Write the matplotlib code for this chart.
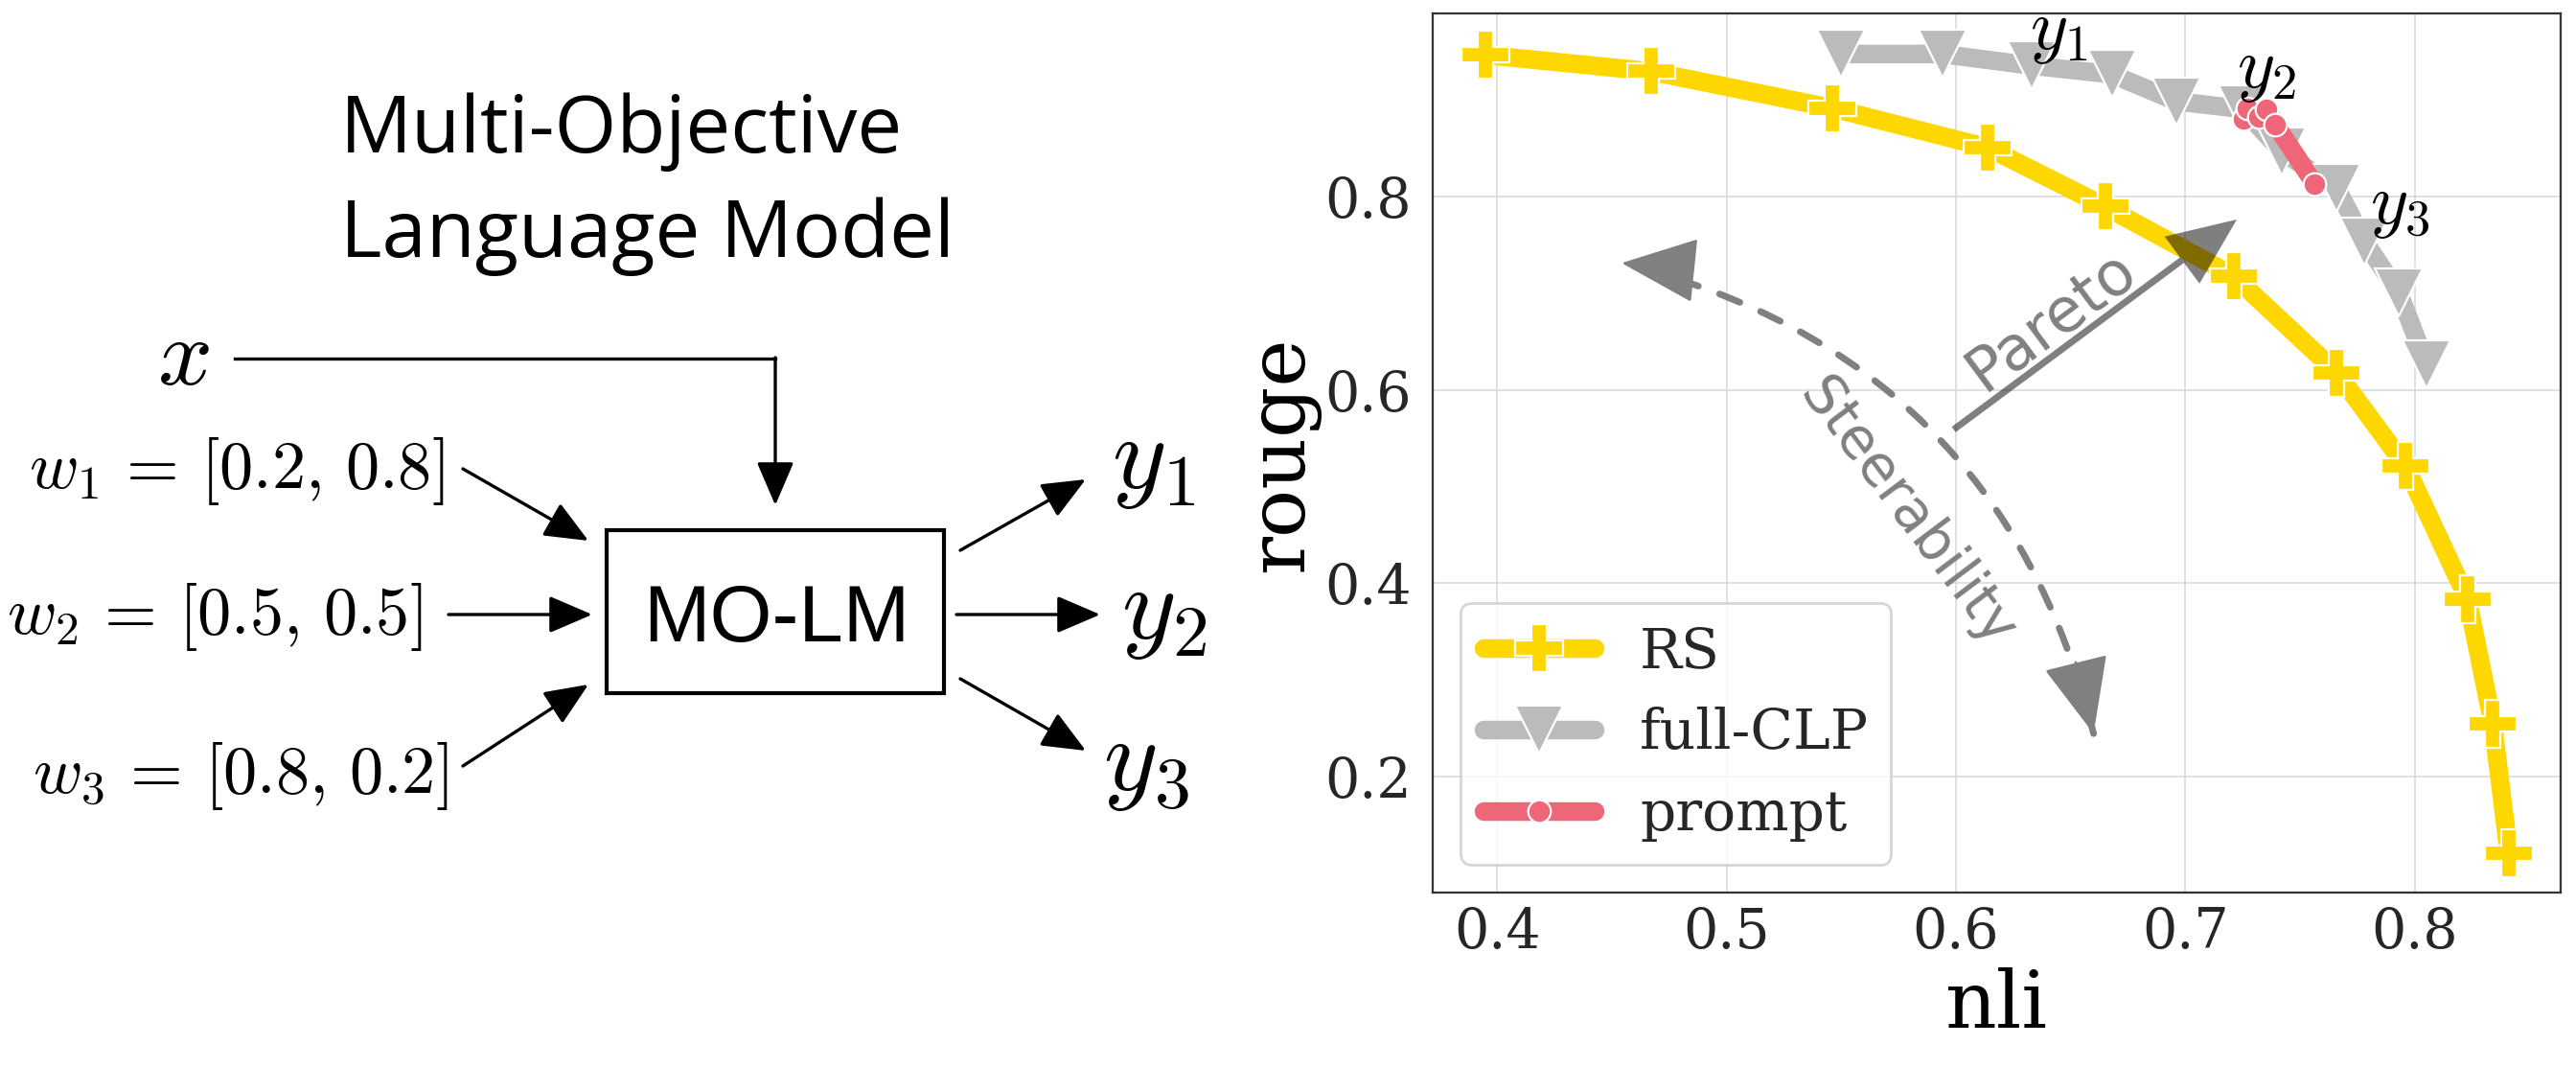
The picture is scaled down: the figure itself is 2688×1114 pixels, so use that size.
import matplotlib
matplotlib.use("Agg")
import matplotlib.pyplot as plt
from matplotlib.patches import Rectangle, ArrowStyle

plt.rcParams['mathtext.fontset'] = 'cm'
plt.rcParams['font.family'] = 'DejaVu Serif'
plt.rcParams['text.color'] = '#262626'

# values
rs_nli = [0.395, 0.467, 0.546, 0.614, 0.665, 0.721, 0.766, 0.796, 0.823, 0.834, 0.841]
rs_rouge = [0.947, 0.930, 0.892, 0.851, 0.790, 0.718, 0.618, 0.521, 0.383, 0.254, 0.120]

clp_nli = [0.550, 0.594, 0.633, 0.668, 0.696, 0.725, 0.742, 0.766, 0.778, 0.793, 0.805]
clp_rouge = [0.948, 0.948, 0.936, 0.927, 0.899, 0.891, 0.847, 0.809, 0.754, 0.701, 0.627]

prompt_nli = [0.7253, 0.7268, 0.7322, 0.7355, 0.7392, 0.7563]
prompt_rouge = [0.881, 0.8915, 0.883, 0.8905, 0.875, 0.8137]

series_names = ['RS', 'full-CLP', 'prompt']
series_colors = ['#FFD700', '#BBBBBB', '#EE6677']
series_markers = ['P', 'v', 'o']

x_ticks = [0.4, 0.5, 0.6, 0.7, 0.8]
y_ticks = [0.2, 0.4, 0.6, 0.8]

weight_labels = [r'$w_1 \,=\, [0.2,\, 0.8]$', r'$w_2 \,=\, [0.5,\, 0.5]$',
                 r'$w_3 \,=\, [0.8,\, 0.2]$']
output_labels = [r'$y_1$', r'$y_2$', r'$y_3$']

fig = plt.figure(figsize=(13.44, 5.57), dpi=200)

# ---------------- left: diagram (pixel coordinates) ----------------
ax0 = fig.add_axes([0, 0, 1, 1])
ax0.set_xlim(0, 2688)
ax0.set_ylim(1114, 0)
ax0.axis('off')


def arrow(ax, start, end, lw=1.2, hl=0.7, hw=0.3):
    ax.annotate('', xy=end, xytext=start,
                arrowprops=dict(arrowstyle=f'-|>,head_length={hl},head_width={hw}',
                                color='k', lw=lw, shrinkA=0, shrinkB=0,
                                mutation_scale=20))


ax0.text(355, 159, 'Multi-Objective', fontfamily='Open Sans', fontsize=30,
         color='k', va='baseline', ha='left')
ax0.text(355, 268, 'Language Model', fontfamily='Open Sans', fontsize=30,
         color='k', va='baseline', ha='left')

ax0.text(191, 374, r'$x$', fontsize=36, color='k', ha='center', va='center')
ax0.plot([245, 809], [374, 374], color='k', lw=1.2)
arrow(ax0, (809, 373), (809, 527))

ax0.add_patch(Rectangle((633, 553), 352, 170, fill=False, ec='k', lw=1.5))
ax0.text(810, 669, 'MO-LM', fontfamily='Liberation Sans', fontsize=30,
         color='k', ha='center', va='baseline')

w_right = [463, 440, 467]
w_base = [509, 661, 827]
for lab, xr, yb in zip(weight_labels, w_right, w_base):
    ax0.text(xr, yb, lab, fontsize=25.3, color='k', ha='right', va='baseline')

arrow(ax0, (483, 489), (614, 564))
arrow(ax0, (468, 641), (618, 641))
arrow(ax0, (483, 799), (614, 714))

arrow(ax0, (1002, 574), (1133, 500))
arrow(ax0, (998, 641), (1148, 641))
arrow(ax0, (1002, 708), (1133, 783))

y_pos = [(1203, 480), (1215, 637), (1196, 795)]
for lab, (px, py) in zip(output_labels, y_pos):
    ax0.text(px, py, lab, fontsize=39, color='k', ha='center', va='center')

# ---------------- right: pareto fronts ----------------
ax = fig.add_axes([0.5562, 0.1643, 0.4378, 0.8231])
ax.set_facecolor('white')

data = [(rs_nli, rs_rouge), (clp_nli, clp_rouge), (prompt_nli, prompt_rouge)]
msizes = [18, 18, 8.5]
for (xs, ys), name, c, m, ms in zip(data, series_names, series_colors,
                                     series_markers, msizes):
    ax.plot(xs, ys, color=c, lw=7, marker=m, ms=ms, mec='white', mew=0.8,
            label=name, solid_capstyle='round')

ax.set_xlim(0.372, 0.8635)
ax.set_ylim(0.0794, 0.990)
ax.set_xticks(x_ticks)
ax.set_yticks(y_ticks)
ax.grid(True, color='#dadada', lw=0.6)
ax.set_axisbelow(True)
ax.tick_params(axis='both', length=0, labelsize=20.5, labelcolor='#262626')
ax.tick_params(axis='x', pad=5)
ax.tick_params(axis='y', pad=8)
for sp in ax.spines.values():
    sp.set_color('#333333')
    sp.set_linewidth(0.8)

ax.set_xlabel('nli', fontsize=30, labelpad=3)
ax.set_ylabel('rouge', fontsize=30, labelpad=2)

# front labels (y1 pokes above the frame, so it is a figure-level text)
fig.text(0.6447, 0.972, output_labels[0], fontsize=27, color='k',
         ha='center', va='center', transform=ax.transData, zorder=5)
ax.text(0.7355, 0.9315, output_labels[1], fontsize=27, color='k',
        ha='center', va='center')
ax.text(0.7937, 0.7906, output_labels[2], fontsize=27, color='k',
        ha='center', va='center')

# Pareto arrow (filled shape, semi-transparent)
pareto_style = ArrowStyle.Simple(head_length=1.28, head_width=1.1, tail_width=0.126)
ax.annotate('', xy=(0.7224, 0.7766), xytext=(0.599, 0.559),
            arrowprops=dict(arrowstyle=pareto_style, fc='k', ec='none', lw=0,
                            alpha=0.5, shrinkA=0, shrinkB=0, mutation_scale=20))
ax.text(0.6415, 0.672, 'Pareto', fontfamily='DejaVu Sans', fontsize=23,
        color='#808080', rotation=36.6, ha='center', va='center',
        rotation_mode='anchor')

# Steerability arrow: dashed arc plus two solid heads
steer_top = (0.4543, 0.7315)
steer_bottom = (0.660, 0.244)
ax.annotate('', xy=steer_top, xytext=steer_bottom,
            arrowprops=dict(arrowstyle='-', connectionstyle='arc3,rad=0.3',
                            linestyle=(0, (3.3, 3.4)), color='#808080', lw=2.5,
                            shrinkA=0, shrinkB=0))
head = dict(arrowstyle='-|>,head_length=1.28,head_width=0.55', color='#808080',
            lw=1, shrinkA=0, shrinkB=0, mutation_scale=20)
ax.annotate('', xy=steer_top, xytext=(0.4853, 0.7239), arrowprops=head)
ax.annotate('', xy=steer_bottom, xytext=(0.6522, 0.3178), arrowprops=head)
ax.text(0.5787, 0.4734, 'Steerability', fontfamily='DejaVu Sans', fontsize=21,
        color='#808080', rotation=-53, ha='center', va='center',
        rotation_mode='anchor')

leg = ax.legend(loc='lower left', fontsize=21, frameon=True, fancybox=True,
                edgecolor='#cccccc', framealpha=0.8)

fig.savefig('out.png', dpi=200)
